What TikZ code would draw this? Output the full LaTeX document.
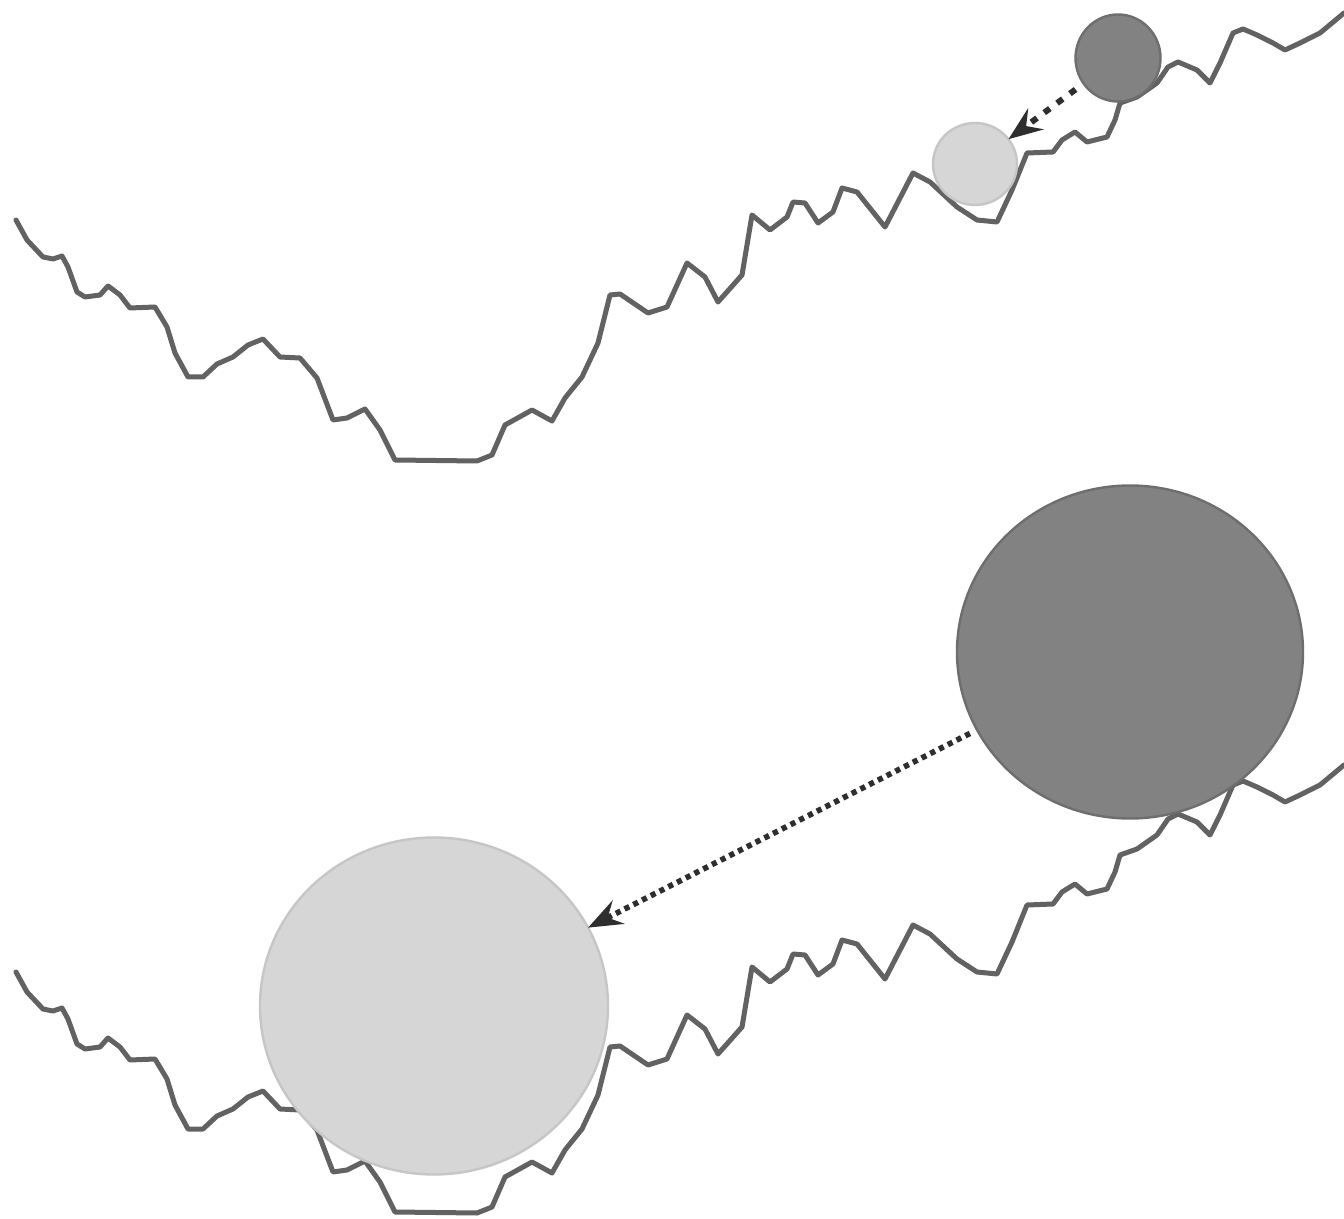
\documentclass[tikz,border=0pt]{standalone}
\usetikzlibrary{arrows.meta,shapes.geometric}
\definecolor{landgray}{HTML}{626262}
\definecolor{darkfill}{HTML}{828282}
\definecolor{darkrim}{HTML}{6E6E6E}
\definecolor{lightfill}{HTML}{D6D6D6}
\definecolor{lightrim}{HTML}{C6C6C6}
\definecolor{arrowgray}{HTML}{2E2E2E}
\newcommand{\landscape}{(16,220)--(27,240)--(43,257)--(53,259)--(62,256)--(68,267)--(77,292)--(85,297)--(100,295)--(108,286)--(120,295)--(130,308)--(155,307)--(167,327)--(175,353)--(188,377)--(203,377)--(217,364)--(233,357)--(248,345)--(263,339)--(280,357)--(300,358)--(317,378)--(333,420)--(347,418)--(365,409)--(380,430)--(395,460)--(477,461)--(492,455)--(505,425)--(532,410)--(552,421)--(565,398)--(582,377)--(598,343)--(610,295)--(620,294)--(648,313)--(667,307)--(687,263)--(705,277)--(718,302)--(742,275)--(752,215)--(770,230)--(787,217)--(793,202)--(805,203)--(818,223)--(833,212)--(842,188)--(857,192)--(885,227)--(913,173)--(930,182)--(957,207)--(977,220)--(997,222)--(1012,190)--(1027,153)--(1053,152)--(1062,140)--(1075,132)--(1087,142)--(1107,137)--(1115,120)--(1120,103)--(1137,97)--(1157,83)--(1168,67)--(1178,62)--(1197,70)--(1210,83)--(1220,63)--(1233,33)--(1243,29)--(1257,35)--(1273,43)--(1285,50)--(1300,43)--(1320,33)--(1344,13)}

\begin{document}
\begin{tikzpicture}[x=0.5pt,y=-0.5pt,
  landline/.style={draw=landgray,line width=2.5pt,line join=round,line cap=round},
  ball/.style={ellipse,inner sep=0pt,outer sep=0pt},
  darkball/.style={ball,fill=darkfill,draw=darkrim,line width=1.2pt},
  lightball/.style={ball,fill=lightfill,draw=lightrim,line width=1.2pt},
  moveline/.style={draw=arrowgray,-{Stealth[length=17pt,width=13pt,inset=6pt]}}]
\useasboundingbox[fill=white] (0,0) rectangle (1344,1219);
% small scale
\draw[landline] \landscape;
\node[darkball,minimum width=42.5pt,minimum height=43.5pt] (darksmall) at (1118,58) {};
\node[lightball,minimum width=42pt,minimum height=41pt] (lightsmall) at (975,164) {};
\draw[moveline,line width=3pt,dash pattern=on 3.5pt off 4.5pt,shorten <=5pt] (darksmall) -- (lightsmall);
% large scale
\begin{scope}[shift={(0,752)}]
\draw[landline] \landscape;
\end{scope}
\node[darkball,minimum width=173pt,minimum height=166.5pt] (darklarge) at (1130,652) {};
\node[lightball,minimum width=174pt,minimum height=168.5pt] (lightlarge) at (434,1006) {};
\draw[moveline,line width=2.8pt,dash pattern=on 2.6pt off 2.3pt,shorten <=4pt] (darklarge) -- (lightlarge);
\end{tikzpicture}
\end{document}
